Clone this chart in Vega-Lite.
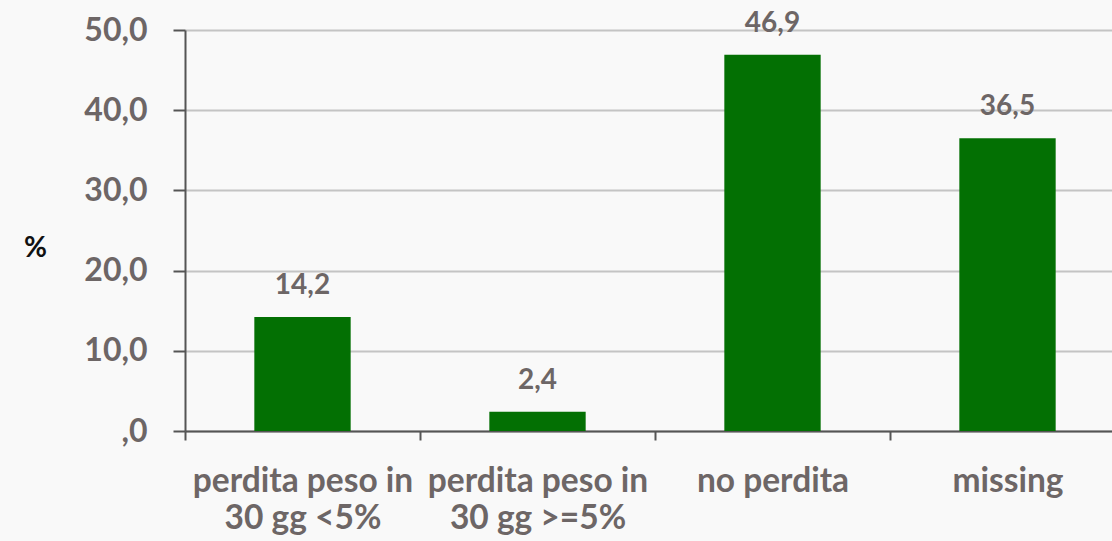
{
  "$schema": "https://vega.github.io/schema/vega-lite/v6.json",
  "width": 927,
  "height": 401,
  "autosize": {"type": "none"},
  "padding": {"left": 185, "top": 30, "right": 0, "bottom": 110},
  "background": "#f9f9f9",
  "config": {
    "view": {"stroke": null},
    "font": "Lato",
    "locale": {
      "number": {"decimal": ",", "thousands": ".", "grouping": [3], "currency": ["", " €"]}
    }
  },
  "data": {
    "values": [
      {"cat": "perdita peso in|30 gg <5%", "pct": 14.2},
      {"cat": "perdita peso in|30 gg >=5%", "pct": 2.4},
      {"cat": "no perdita", "pct": 46.9},
      {"cat": "missing", "pct": 36.5}
    ]
  },
  "encoding": {
    "x": {
      "field": "cat",
      "type": "nominal",
      "sort": null,
      "scale": {"range": [0, 940], "paddingInner": 0, "paddingOuter": 0},
      "axis": {
        "title": null,
        "labelAngle": 0,
        "labelExpr": "split(datum.label, '|')",
        "labelFont": "Lato",
        "labelFontWeight": "bold",
        "labelFontSize": 33.5,
        "labelColor": "#6d6666",
        "labelLineHeight": 37,
        "labelLimit": 0,
        "labelPadding": 25,
        "labelBaseline": "top",
        "labelOverlap": false,
        "tickBand": "extent",
        "tickSize": 9,
        "tickWidth": 2,
        "tickColor": "#555555",
        "domainColor": "#555555",
        "domainWidth": 2,
        "grid": false
      }
    },
    "y": {
      "field": "pct",
      "type": "quantitative",
      "scale": {"domain": [0, 50], "nice": false},
      "axis": {
        "values": [0, 10, 20, 30, 40, 50],
        "labelExpr": "datum.value == 0 ? ',0' : format(datum.value, '.1f')",
        "labelFont": "Lato",
        "labelFontWeight": "bold",
        "labelFontSize": 32,
        "labelColor": "#6d6666",
        "labelPadding": 26,
        "tickSize": 12,
        "tickWidth": 2,
        "tickColor": "#555555",
        "domainColor": "#555555",
        "domainWidth": 2,
        "grid": true,
        "gridColor": "#c4c4c4",
        "gridWidth": 2,
        "title": "%",
        "titleAngle": 0,
        "titleX": -150,
        "titleY": 218,
        "titleAlign": "center",
        "titleBaseline": "middle",
        "titleFont": "Lato",
        "titleFontSize": 28,
        "titleFontWeight": "bold",
        "titleColor": "#111111"
      }
    }
  },
  "layer": [
    {
      "mark": {"type": "bar", "color": "#037003", "width": {"band": 0.41}}
    },
    {
      "mark": {
        "type": "text",
        "baseline": "middle",
        "dy": -31,
        "font": "Lato",
        "fontWeight": "bold",
        "fontSize": 28,
        "color": "#6d6666"
      },
      "encoding": {
        "text": {"field": "pct", "type": "quantitative", "format": ".1f"}
      }
    }
  ]
}
